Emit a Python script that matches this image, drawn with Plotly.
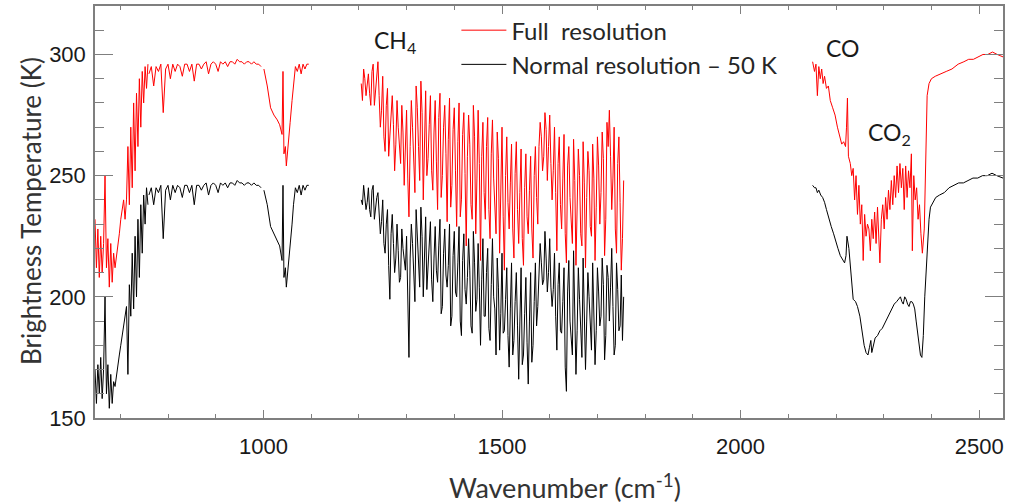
import numpy as np
import plotly.graph_objects as go

# ---------------- data ----------------
# Segment A : 647-1095 cm-1
wn_a1 = np.arange(647, 759, 3)          # 647..758
red_a1 = [232, 212, 228, 208, 225, 210, 222, 250, 212, 224,
          204, 222, 206, 218, 212, 216, 222, 226, 232, 236,
          240, 232, 240, 262, 238, 270, 245, 280, 252, 284,
          262, 290, 270, 293, 280, 295, 286, 296]
blk_a1 = [170, 156, 172, 160, 175, 158, 170, 200, 160, 172,
          154, 168, 156, 165, 163, 168, 172, 176, 180, 184,
          188, 191, 196, 168, 205, 192, 218, 195, 225, 200,
          232, 208, 238, 218, 242, 230, 245, 238]

wn_a2 = np.arange(760, 996, 5)          # 760..995
red_a2 = [292, 295, 287, 295, 293, 296, 276, 294, 296, 290,
          296, 293, 296, 295, 291, 296, 296, 293, 296, 289,
          296, 296, 294, 296, 297, 292, 296, 297, 296, 293,
          297, 296, 297, 295, 297, 297, 296, 298, 297, 297,
          296, 297, 297, 296, 297, 296, 296, 295]
blk_a2 = [242, 245, 238, 245, 243, 246, 224, 244, 246, 240,
          246, 243, 246, 245, 241, 246, 246, 243, 246, 238,
          246, 246, 244, 246, 247, 242, 246, 247, 246, 243,
          247, 246, 247, 245, 247, 247, 246, 248, 247, 247,
          246, 247, 247, 246, 247, 246, 246, 245]

wn_a3 = [1001, 1008, 1015, 1022, 1029, 1034, 1039, 1041, 1043, 1046, 1048, 1051,
         1053, 1056, 1060, 1063, 1067, 1071, 1075, 1079, 1083, 1087, 1091, 1095]
red_a3 = [294, 287, 278, 275, 273, 271, 267, 293, 259, 262, 254, 260,
          263, 272, 281, 288, 295, 293, 296, 292, 296, 294, 296, 296]
blk_a3 = [244, 238, 229, 226, 223, 221, 215, 246, 208, 212, 204, 210,
          214, 220, 230, 238, 245, 243, 246, 242, 246, 244, 246, 246]

# Segment B : CH4 band 1205-1755 cm-1 (two interleaved readings)
wn_b = np.arange(1205, 1756, 5)
red_b = [288, 294, 283, 292, 279, 296, 284, 297, 270, 291,
         260, 286, 266, 283, 252, 281, 262, 279, 246, 277,
         233, 281, 254, 287, 262, 289, 240, 285, 257, 283,
         244, 281, 236, 284, 250, 279, 231, 282, 246, 278,
         229, 280, 240, 276, 221, 275, 238, 279, 226, 277,
         215, 272, 232, 274, 224, 273, 236, 268, 218, 270,
         211, 266, 228, 263, 216, 264, 222, 261, 213, 259,
         226, 258, 216, 262, 230, 272, 252, 276, 248, 275,
         240, 270, 219, 266, 228, 267, 214, 262, 232, 265,
         213, 261, 226, 264, 212, 260, 229, 263, 215, 266,
         230, 268, 217, 272, 277, 236, 270, 218, 266, 211,
         248]
blk_b = [240, 246, 236, 245, 233, 246, 238, 243, 226, 240,
         218, 236, 199, 234, 210, 230, 206, 228, 214, 225,
         175, 230, 208, 236, 214, 237, 200, 233, 212, 231,
         198, 229, 206, 232, 196, 228, 204, 230, 192, 227,
         200, 229, 184, 226, 197, 224, 188, 227, 194, 222,
         180, 224, 192, 220, 182, 224, 195, 216, 178, 218,
         186, 212, 171, 214, 182, 210, 166, 212, 176, 208,
         164, 210, 180, 214, 196, 222, 205, 227, 202, 224,
         196, 218, 178, 214, 185, 212, 161, 215, 180, 219,
         168, 212, 184, 216, 170, 210, 186, 214, 172, 212,
         188, 216, 174, 213, 190, 220, 176, 214, 186, 209,
         200]
wn_b_mid = np.arange(1207.5, 1753, 5)
red_b_mid = [281, 290, 287, 284, 293, 279, 292, 283, 277, 266,
             279, 258, 276, 271, 263, 270, 255, 268, 259, 249,
             262, 270, 243, 278, 248, 276, 263, 250, 271, 252,
             268, 256, 274, 241, 270, 259, 265, 237, 269, 252,
             264, 233, 267, 251, 258, 263, 232, 266, 249, 255,
             258, 243, 262, 236, 259, 249, 226, 257, 244, 233,
             250, 239, 247, 228, 251, 236, 243, 224, 245, 233,
             244, 228, 250, 241, 262, 266, 258, 269, 262, 255,
             252, 243, 255, 238, 249, 226, 254, 241, 222, 248,
             238, 250, 221, 247, 241, 252, 225, 249, 237, 254,
             243, 257, 232, 262, 258, 249, 228, 255, 239, 224]
blk_b_mid = [238, 242, 239, 236, 244, 232, 241, 235, 231, 222,
             230, 213, 226, 222, 216, 219, 208, 220, 211, 196,
             216, 222, 198, 226, 204, 225, 214, 203, 220, 207,
             216, 211, 221, 193, 218, 209, 213, 188, 217, 202,
             214, 190, 215, 203, 208, 211, 185, 214, 199, 204,
             207, 192, 210, 187, 205, 200, 176, 204, 193, 185,
             199, 184, 195, 176, 198, 188, 190, 172, 193, 181,
             190, 173, 198, 188, 209, 214, 207, 216, 210, 204,
             203, 192, 205, 186, 198, 171, 202, 190, 176, 198,
             186, 199, 175, 195, 190, 200, 178, 197, 186, 202,
             192, 205, 184, 208, 204, 196, 180, 203, 188, 182]

# Segment C : CO / CO2 region 2150-2550 cm-1
wn_c_red = [2151, 2155, 2158, 2161, 2164, 2167, 2170, 2173, 2176, 2180,
            2184, 2188, 2193, 2198, 2203, 2208, 2212, 2216, 2220, 2222,
            2224, 2226, 2230, 2233, 2236, 2239, 2242, 2245, 2248, 2251,
            2254, 2257, 2260, 2263, 2266, 2269, 2272, 2275, 2278, 2281,
            2284, 2287, 2290, 2292, 2295, 2298, 2301, 2304, 2307, 2310,
            2313, 2316, 2319, 2322, 2325, 2328, 2331, 2334, 2337, 2340,
            2343, 2346, 2349, 2352, 2355, 2358, 2360, 2363, 2366, 2369,
            2372, 2375, 2378, 2381, 2385, 2388, 2391, 2395, 2400, 2408,
            2418, 2431, 2443, 2456, 2468, 2478, 2488, 2498, 2508, 2518,
            2528, 2538, 2550]
red_c = [297, 293, 296, 283, 295, 290, 294, 288, 291, 286,
         287, 281, 278, 275, 270, 266, 263, 264, 262, 270,
         282, 258, 255, 250, 253, 240, 250, 234, 246, 230,
         238, 215, 234, 225, 230, 228, 219, 232, 224, 235,
         222, 237, 226, 214, 232, 238, 228, 241, 232, 244,
         236, 248, 238, 250, 241, 254, 243, 255, 245, 253,
         236, 254, 241, 252, 245, 259, 219, 250, 240, 245,
         232, 238, 226, 218, 228, 262, 283, 288, 290, 291,
         292, 293, 294, 296, 297, 298, 298, 299, 300, 300,
         301, 300, 299]
wn_c_blk = [2151, 2155, 2158, 2161, 2164, 2168, 2172, 2176, 2180, 2185,
            2190, 2195, 2199, 2204, 2209, 2214, 2218, 2221, 2223, 2227,
            2230, 2233, 2236, 2241, 2245, 2250, 2255, 2259, 2263, 2267,
            2270, 2273, 2275, 2278, 2282, 2287, 2292, 2297, 2302, 2307,
            2312, 2317, 2322, 2327, 2332, 2335, 2338, 2341, 2344, 2347,
            2350, 2353, 2356, 2359, 2362, 2365, 2368, 2371, 2374, 2377,
            2380, 2383, 2386, 2389, 2392, 2395, 2398, 2403, 2409, 2417,
            2427, 2437, 2447, 2457, 2467, 2477, 2487, 2497, 2507, 2517,
            2527, 2537, 2550]
blk_c = [246, 245, 245, 243, 244, 242, 241, 239, 236, 232,
         229, 226, 223, 220, 217, 215, 214, 217, 225, 220,
         212, 204, 199, 198, 196, 192, 185, 180, 177, 176,
         179, 182, 177, 180, 183, 184, 186, 187, 189, 191,
         193, 195, 197, 198, 199, 200, 198, 197, 200, 199,
         197, 196, 198, 198, 197, 195, 190, 186, 180, 176,
         175, 184, 200, 212, 224, 232, 237, 239, 241, 242,
         243, 245, 246, 247, 247, 248, 249, 249, 250, 250,
         251, 250, 249]

x_ticks = [1000, 1500, 2000, 2500]
y_ticks = [150, 200, 250, 300]


def merge(xa, ya, xb, yb):
    x = np.concatenate([np.asarray(xa, float), np.asarray(xb, float)])
    y = np.concatenate([np.asarray(ya, float), np.asarray(yb, float)])
    o = np.argsort(x, kind="stable")
    return x[o], y[o]


def join(*segs):
    xs, ys = [], []
    for i, (sx, sy) in enumerate(segs):
        assert len(sx) == len(sy)
        if i:
            xs.append(None)
            ys.append(None)
        xs += list(sx)
        ys += list(sy)
    return xs, ys


rbx, rby = merge(wn_b, red_b, wn_b_mid, red_b_mid)
bbx, bby = merge(wn_b, blk_b, wn_b_mid, blk_b_mid)

rx, ry = join((wn_a1, red_a1), (wn_a2, red_a2), (wn_a3, red_a3),
              (rbx, rby), (wn_c_red, red_c))
bx, by = join((wn_a1, blk_a1), (wn_a2, blk_a2), (wn_a3, blk_a3),
              (bbx, bby), (wn_c_blk, blk_c))

TXT = "Lato, 'Open Sans', sans-serif"
NUM = "'Liberation Sans', Arial, sans-serif"

fig = go.Figure()
fig.add_trace(go.Scatter(x=rx, y=ry, mode="lines", name="Full  resolution",
                         line=dict(color="#ff0000", width=1), connectgaps=False))
fig.add_trace(go.Scatter(x=bx, y=by, mode="lines", name="Normal resolution \u2013 50 K",
                         line=dict(color="#000000", width=1), connectgaps=False))

axis_common = dict(showline=True, linecolor="#7f7f7f", linewidth=1.5, mirror="ticks",
                   ticks="inside", tickcolor="#7f7f7f", tickwidth=1.3,
                   showgrid=False, zeroline=False, automargin=False,
                   tickfont=dict(family=NUM, size=22, color="#1a1a1a"))

fig.update_layout(
    width=1010, height=503,
    margin=dict(l=95, r=7, t=6, b=85),
    paper_bgcolor="white", plot_bgcolor="white",
    showlegend=True,
    legend=dict(x=0.398, y=0.995, xanchor="left", yanchor="top",
                bgcolor="rgba(0,0,0,0)", itemwidth=45,
                font=dict(family=TXT, size=24, color="#262626")),
    xaxis=dict(range=[647, 2550], tickvals=x_ticks, ticklen=8, ticklabelstandoff=8,
               minor=dict(dtick=100, tick0=0, ticklen=4, ticks="inside", tickcolor="#7f7f7f"),
               **axis_common),
    yaxis=dict(range=[150, 320], tickvals=y_ticks, ticklen=18, ticklabelstandoff=3,
               minor=dict(dtick=10, tick0=0, ticklen=9, ticks="inside", tickcolor="#7f7f7f"),
               **axis_common),
)

fig.add_annotation(text="Brightness Temperature (K)", xref="paper", yref="paper",
                   x=(31 - 95) / 908, y=(418 - 211) / 412, xanchor="center", yanchor="middle",
                   textangle=-90, showarrow=False,
                   font=dict(family=TXT, size=26, color="#333333"))
fig.add_annotation(text="Wavenumber (cm<sup>-1</sup>)", xref="paper", yref="paper",
                   x=(565 - 95) / 908, y=(418 - 486) / 412, xanchor="center", yanchor="middle",
                   showarrow=False, font=dict(family=TXT, size=27, color="#333333"))
fig.add_annotation(text="CH<sub>4</sub>", x=1275, y=305.5, showarrow=False,
                   font=dict(family=TXT, size=23, color="#1a1a1a"))
fig.add_annotation(text="CO", x=2213, y=302.5, showarrow=False,
                   font=dict(family=TXT, size=23, color="#1a1a1a"))
fig.add_annotation(text="CO<sub>2</sub>", x=2313, y=267.5, showarrow=False,
                   font=dict(family=TXT, size=23, color="#1a1a1a"))

fig.write_html("out.html", config={"displayModeBar": False},
               post_script="document.body.style.margin='0px';")
